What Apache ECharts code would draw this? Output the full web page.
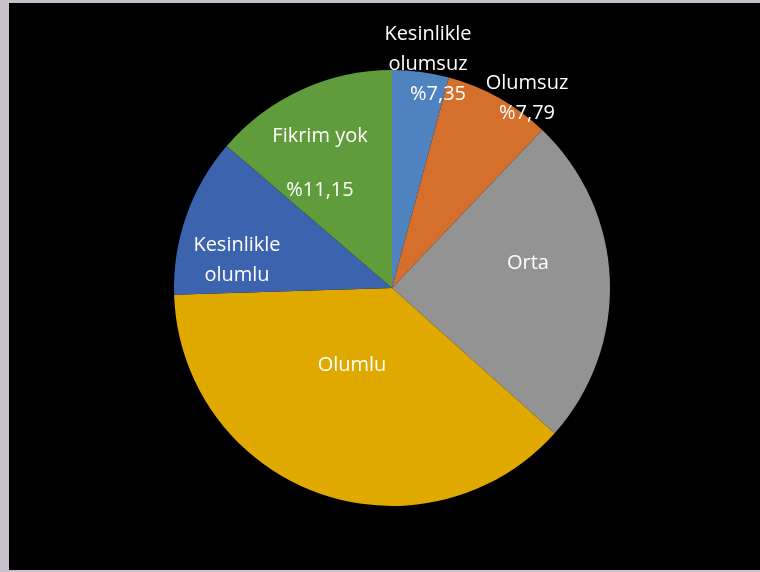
<!DOCTYPE html>
<html>
<head>
<meta charset="utf-8">
<script src="https://cdn.jsdelivr.net/npm/echarts@6/dist/echarts.min.js"></script>
<style>
  html, body { margin: 0; padding: 0; background: #c8c1cb; }
  #chart { position: absolute; left: 9px; top: 3px; width: 751px; height: 567px; background: #000; }
</style>
</head>
<body>
<div id="chart"></div>
<script>
// slice sizes as drawn (percent of the circle), clockwise from 12 o'clock
const categories = ['Kesinlikle olumsuz', 'Olumsuz', 'Orta', 'Olumlu', 'Kesinlikle olumlu', 'Fikrim yok'];
const values = [4.2, 7.9, 24.5, 37.9, 11.8, 13.7];
// label texts printed on the chart
const labelTexts = [
  'Kesinlikle\nolumsuz\n{p|%7,35}',
  'Olumsuz\n%7,79',
  'Orta',
  'Olumlu',
  'Kesinlikle\nolumlu',
  'Fikrim yok\n%11,15'
];
const colors = ['#4f83bf', '#d4702b', '#939393', '#e0a900', '#3c63ad', '#609b3c'];

// hand-placed label centres (chart-div coords), like the Excel original
const labelSpots = [[419, 61], [518, 95], [519, 260], [343, 362], [228, 257], [311, 160]];

const chart = echarts.init(document.getElementById('chart'));
chart.setOption({
  backgroundColor: '#000',
  animation: false,
  series: [{
    type: 'pie',
    center: [383, 285],
    radius: 218,
    startAngle: 90,
    clockwise: true,
    itemStyle: { borderWidth: 0 },
    label: {
      show: true,
      position: 'inside',
      color: '#fff',
      fontFamily: 'Open Sans',
      fontSize: 20,
      lineHeight: 30,
      formatter: p => labelTexts[p.dataIndex],
      rich: {
        p: { color: '#fff', fontFamily: 'Open Sans', fontSize: 20, lineHeight: 30, padding: [0, 0, 0, 20] }
      }
    },
    labelLine: { show: false },
    labelLayout: p => ({
      x: labelSpots[p.dataIndex][0],
      y: labelSpots[p.dataIndex][1],
      align: 'center',
      verticalAlign: 'middle'
    }),
    emphasis: { disabled: true },
    data: categories.map((name, i) => ({
      name,
      value: values[i],
      itemStyle: { color: colors[i] },
      label: i === 5 ? { lineHeight: 54 } : undefined
    }))
  }]
});
</script>
</body>
</html>
